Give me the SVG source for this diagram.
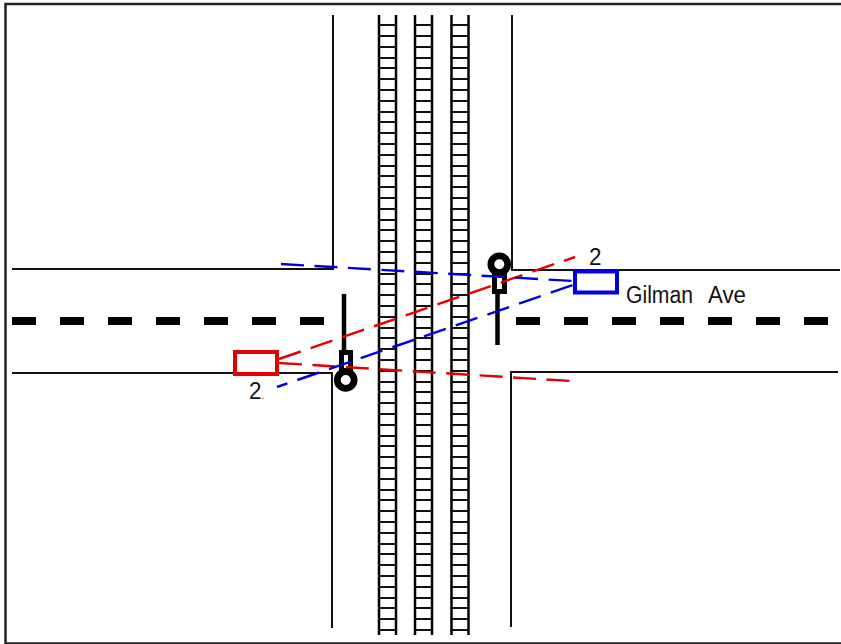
<svg xmlns="http://www.w3.org/2000/svg" xmlns:xlink="http://www.w3.org/1999/xlink" width="841" height="644" viewBox="0 0 841 644">
<style>
.road{fill:none;stroke:#111;stroke-width:2}
.center{fill:none;stroke:#000;stroke-width:8;stroke-dasharray:24 24}
.rail{fill:none;stroke:#000;stroke-width:2.5}
.tie{fill:none;stroke:#111;stroke-width:2.2}
.beamr{fill:none;stroke:#e30000;stroke-width:2.4;stroke-dasharray:23 10.500}
.beamb{fill:none;stroke:#0000dd;stroke-width:2.4;stroke-dasharray:23 10.500}
.sig{fill:none;stroke:#000;stroke-width:6.800}
.pole{fill:none;stroke:#000;stroke-width:4.500}
.hous{fill:#fff;stroke:#000;stroke-width:5}
text{font-family:"Liberation Sans",Arial,sans-serif;font-size:23px;fill:#111}
</style>
<defs>
<g id="track">
<path class="rail" d="M0 15V635M17 15V635"/>
<path class="tie" d="M-1 25h18M-1 36h18M-1 47h18M-1 58h18M-1 68h18M-1 79h18M-1 90h18M-1 101h18M-1 112h18M-1 122h18M-1 133h18M-1 144h18M-1 155h18M-1 166h18M-1 176h18M-1 187h18M-1 198h18M-1 209h18M-1 220h18M-1 230h18M-1 241h18M-1 252h18M-1 263h18M-1 274h18M-1 284h18M-1 295h18M-1 306h18M-1 317h18M-1 328h18M-1 338h18M-1 349h18M-1 360h18M-1 371h18M-1 382h18M-1 392h18M-1 403h18M-1 414h18M-1 425h18M-1 436h18M-1 446h18M-1 457h18M-1 468h18M-1 479h18M-1 490h18M-1 500h18M-1 511h18M-1 522h18M-1 533h18M-1 544h18M-1 554h18M-1 565h18M-1 576h18M-1 587h18M-1 598h18M-1 608h18M-1 619h18M-1 630h18"/>
</g>
</defs>
<rect width="841" height="644" fill="#fff"/>
<path id="frame" d="M841 4H5.500V643.500H841" fill="none" stroke="#222" stroke-width="2.5"/>
<g id="roads">
<path class="road" d="M333 15V269H12"/>
<path class="road" d="M12 373H332V628"/>
<path class="road" d="M512 15V270H840"/>
<path class="road" d="M838 372H511V627"/>
<path class="center" d="M12 321H325"/>
<path class="center" d="M516 321H830"/>
</g>
<g id="tracks">
<use xlink:href="#track" href="#track" x="379"/>
<use xlink:href="#track" href="#track" x="415"/>
<use xlink:href="#track" href="#track" x="451.500"/>
</g>
<g id="signal-left">
<path class="pole" d="M344 294V352"/>
<rect class="hous" x="341.500" y="352.500" width="9" height="18"/>
<circle class="sig" cx="345.700" cy="380" r="8.400" fill="#fff"/>
</g>
<g id="signal-right">
<path class="pole" d="M497.500 294V345"/>
<rect class="hous" x="494.500" y="275" width="10" height="16.500"/>
<circle class="sig" cx="499.300" cy="264.300" r="8.400" fill="#fff"/>
</g>
<g id="connectors">
<path class="beamr" d="M279 359L575 257"/>
<path class="beamr" d="M279 363L571 381"/>
<path class="beamb" d="M281 264L573 281"/>
<path class="beamb" d="M277 387L573 285" stroke-dashoffset="12"/>
</g>
<g id="box-red"><rect x="235" y="352" width="42" height="22" fill="none" stroke="#e30000" stroke-width="4"/></g>
<g id="box-blue"><rect x="575" y="271.500" width="42" height="21" fill="none" stroke="#0000dd" stroke-width="4"/></g>
<g id="labels">
<text x="589" y="265" textLength="12.500" lengthAdjust="spacingAndGlyphs">2</text>
<text x="249" y="399"><tspan textLength="12.500" lengthAdjust="spacingAndGlyphs">2</tspan><tspan font-size="10">.</tspan></text>
<text x="626" y="302.500" textLength="67" lengthAdjust="spacingAndGlyphs">Gilman</text>
<text x="708" y="302.500" textLength="38" lengthAdjust="spacingAndGlyphs">Ave</text>
</g>
</svg>
